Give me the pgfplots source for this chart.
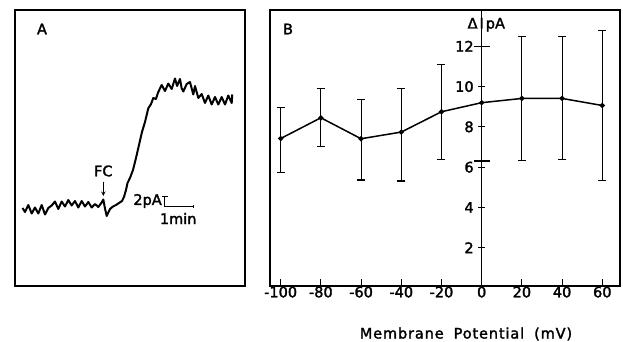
\documentclass[border=0pt]{standalone}
\usepackage{pgfplots}
\pgfplotsset{compat=1.18}
\usepackage{fontspec}
\setmainfont{DejaVu Sans}[FakeBold=2]
\newfontfamily\spacedfont{DejaVu Sans}[FakeBold=2, LetterSpace=6]
\begin{document}
\begin{tikzpicture}[font=\fontsize{14.5}{16}\selectfont]
\path[use as bounding box] (0,0) rectangle (623pt,341pt);
% ---------------- Panel A ----------------
\begin{axis}[at={(15pt,55pt)}, anchor=south west, scale only axis,
  width=230pt, height=276pt,
  xmin=-0.247, xmax=7.88, ymin=-15.4, ymax=39.8,
  xtick=\empty, ytick=\empty,
  axis line style={line width=1.3pt}, clip=false]
\addplot[line width=2pt, line join=round, black] table {
t I
0.02 0.2
0.106 -0.6
0.223 0.8
0.343 -0.9
0.459 0.3
0.576 -0.9
0.696 0.8
0.813 -1.1
0.929 0.2
1.049 0.7
1.166 1.5
1.283 0.0
1.403 1.5
1.519 0.5
1.636 1.8
1.756 0.7
1.873 1.6
1.989 0.3
2.110 1.6
2.226 0.5
2.343 1.4
2.463 0.3
2.580 1.0
2.696 0.4
2.816 1.3
2.873 1.9
2.933 0.1
2.993 -1.4
3.110 0.0
3.216 0.5
3.322 0.8
3.428 1.2
3.534 1.6
3.604 2.4
3.675 3.8
3.728 5.2
3.816 6.2
3.922 7.8
4.028 10.2
4.134 12.8
4.240 15.4
4.346 17.4
4.463 20.14
4.560 21.0
4.640 22.2
4.730 22.0
4.816 23.4
4.936 24.8
5.053 23.6
5.170 25.1
5.290 24.0
5.406 26.1
5.480 24.6
5.583 26.0
5.640 24.2
5.700 23.5
5.820 25.0
5.936 25.4
6.053 22.9
6.113 24.6
6.230 22.2
6.350 23.0
6.466 21.2
6.583 22.7
6.703 20.9
6.820 22.4
6.936 20.9
7.057 22.4
7.173 20.9
7.290 22.7
7.410 21.2
7.430 22.9
};
\node at (axis cs:2.873,7.6) {FC};
\draw[-stealth, line width=1pt] (axis cs:2.873,5.5) -- (axis cs:2.873,2.6);
\draw[line width=1pt] (axis cs:4.95,2.46) -- (axis cs:5.15,2.46);
\draw[line width=1pt] (axis cs:5.053,2.46) -- (axis cs:5.053,0.46) -- (axis cs:6.053,0.46);
\draw[line width=1pt] (axis cs:6.053,0.2) -- (axis cs:6.053,0.72);
\node[anchor=east, inner sep=1pt] at (axis cs:4.98,1.6) {2pA};
\node[inner sep=0pt] at (axis cs:5.52,-1.9) {1min};
\end{axis}
\node at (42pt,312pt) {A};
% ---------------- Panel B ----------------
\begin{axis}[at={(270pt,55pt)}, anchor=south west, scale only axis,
  width=350pt, height=276pt,
  xmin=-105.3, xmax=68.8, ymin=0.1, ymax=13.8,
  axis x line=bottom, axis y line=middle,
  axis line style={-, line width=1.3pt},
  xtick={-100,-80,-60,-40,-20,0,20,40,60},
  ytick={2,4,6,8,10,12},
  xtick align=inside, ytick align=center,
  major tick length=7pt,
  tick style={line width=1.1pt, black},
  /pgf/number format/assume math mode=true,
  xticklabel style={yshift=3pt},
  yticklabel style={xshift=-1pt},
  clip=false]
\draw[line width=1.3pt] (rel axis cs:0,0) rectangle (rel axis cs:1,1);
\addplot[line width=1.5pt, black, mark=*, mark size=1.8pt,
  error bars/.cd, y dir=both, y explicit,
  error bar style={line width=1.1pt},
  error mark options={rotate=90, mark size=4pt, line width=1.1pt}]
  table[x=v, y=d, y error plus=ep, y error minus=em] {
v d ep em
-100 7.42 1.56 1.70
-80 8.45 1.44 1.41
-60 7.41 1.95 2.05
-40 7.74 2.15 2.43
-20 8.75 2.35 2.37
0 9.20 2.80 2.90
20 9.41 3.09 3.06
40 9.41 3.09 3.03
60 9.06 3.72 3.72
};
\addplot[draw=none, mark=none, forget plot,
  error bars/.cd, y dir=both, y explicit,
  error bar style={line width=1.1pt, draw=black},
  error mark options={rotate=90, mark size=8pt, line width=1.3pt, draw=black}]
  table[x=v, y=d, y error plus=ep, y error minus=em] {
v d ep em
0 9.20 2.80 2.90
};
\node[inner sep=0pt] at (axis cs:0,13.07) {\llap{Δ\hspace{2pt}}I\rlap{\hspace{2pt}pA}};
\end{axis}
\node at (288pt,312pt) {B};
\node[anchor=base] at (466pt,2.5pt) {\spacedfont Membrane\hspace{10pt}Potential\hspace{10pt}(mV)};
\end{tikzpicture}
\end{document}
